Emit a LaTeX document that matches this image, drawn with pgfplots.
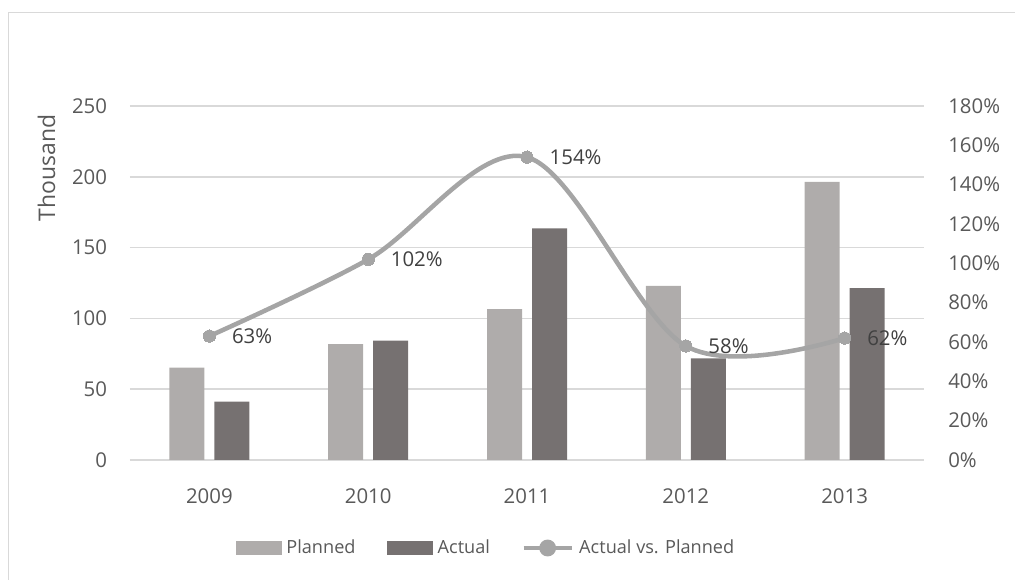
\documentclass[border=0pt]{standalone}
\usepackage{pgfplots}
\pgfplotsset{compat=1.18}
\usepackage{fontspec}
\setmainfont{Open Sans}
\definecolor{planned}{HTML}{AFACAB}
\definecolor{actual}{HTML}{767171}
\definecolor{lineC}{HTML}{A5A5A5}
\definecolor{gridC}{HTML}{D9D9D9}
\definecolor{txt}{HTML}{595959}
\definecolor{lbl}{HTML}{404040}
\begin{document}
\begin{tikzpicture}
\useasboundingbox (0pt,0pt) rectangle (761.25pt,-435pt);
\draw[gridC, line width=1.1pt] (6.4pt,-480pt) -- (6.4pt,-9.2pt) -- (800pt,-9.2pt);
\pgfplotsset{
  common/.style={
    scale only axis, width=595.5pt, height=265.5pt,
    at={(97.5pt,-345pt)}, anchor=south west,
    xmin=-0.5, xmax=4.5,
    axis line style={draw=none},
    tick style={draw=none},
    tick label style={font=\fontsize{15.3}{18}\selectfont, text=txt},
    /pgf/number format/assume math mode=true,
  }
}
\begin{axis}[common,
  ymin=0, ymax=250, ytick={0,50,...,250},
  ymajorgrids, grid style={gridC, line width=1.1pt},
  xtick={0,1,2,3,4}, xticklabels={2009,2010,2011,2012,2013},
  xticklabel style={anchor=north, inner sep=0pt, yshift=-17pt},
  yticklabel style={anchor=east, inner sep=0pt, xshift=-17pt},
  ybar=7.5pt, bar width=26.25pt,
  ylabel={Thousand},
  every axis y label/.style={at={(rel axis cs:-0.105,0.825)}, rotate=90, anchor=center, font=\fontsize{17.2}{20}\selectfont, text=txt},
]
\addplot[fill=planned, draw=none] coordinates {(0,65.2) (1,81.9) (2,106.6) (3,122.9) (4,196.5)};
\addplot[fill=actual, draw=none] coordinates {(0,41.2) (1,84.3) (2,163.6) (3,71.8) (4,121.3)};
\end{axis}
\begin{axis}[common,
  ymin=0, ymax=180, ytick={0,20,...,180},
  yticklabels={0\%,20\%,40\%,60\%,80\%,100\%,120\%,140\%,160\%,180\%},
  axis y line*=right, axis x line=none,
  yticklabel style={anchor=west, inner sep=0pt, xshift=18pt},
  legend columns=3,
  legend style={at={(0.4478,-0.2486)}, anchor=center, draw=none, fill=none,
    font=\fontsize{13.6}{16}\selectfont, text=txt,
    nodes={inner sep=1pt},
    /tikz/every odd column/.append style={column sep=3pt},
    /tikz/every even column/.append style={column sep=22.5pt}},
]
\addlegendimage{legend image code/.code={\fill[planned] (0pt,-4.9pt) rectangle (33.75pt,4.9pt);}}
\addlegendentry{Planned}
\addlegendimage{legend image code/.code={\fill[actual] (0pt,-4.9pt) rectangle (33.75pt,4.9pt);}}
\addlegendentry{Actual}
\addplot[lineC, line width=3.4pt, smooth, tension=0.55, mark=*, mark size=4.6pt,
  mark options={fill=lineC, draw=lineC, line width=0pt},
  legend image code/.code={\draw[lineC, line width=3.4pt] (0pt,0pt) -- (36pt,0pt); \fill[lineC] (18pt,0pt) circle (4.6pt);},
  point meta=y,
  nodes near coords={\pgfmathprintnumber{\pgfplotspointmeta}\%},
  every node near coord/.append style={anchor=west, inner sep=0pt, xshift=17pt, text=lbl, font=\fontsize{15.3}{18}\selectfont},
] coordinates {(0,63) (1,102) (2,154) (3,58) (4,62)};
\addlegendentry{Actual vs. Planned}
\end{axis}
\end{tikzpicture}
\end{document}
